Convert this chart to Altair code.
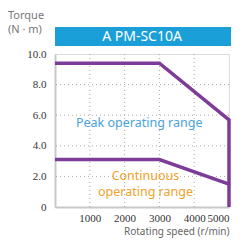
import altair as alt
import pandas as pd

# Data
peak_speed = [0, 3000, 5000, 5000]
peak_torque = [9.4, 9.4, 5.7, 0]
cont_speed = [0, 3000, 5000]
cont_torque = [3.1, 3.1, 1.5]

x_ticks = [1000, 2000, 3000, 4000, 5000]
y_ticks = [0, 2, 4, 6, 8, 10]

label_text = ["Peak operating range", "Continuous", "operating range"]
label_x = [2420, 2600, 2600]
label_y = [5.5, 2.05, 0.95]
label_color = ["#4aa3dd", "#f0a22a", "#f0a22a"]

title_text = "A PM-SC10A"
ylabel_lines = ["Torque", "(N · m)"]

W, H = 174, 153
SERIF = "Liberation Serif"

peak_df = pd.DataFrame({"speed": peak_speed, "torque": peak_torque, "order": range(len(peak_speed))})
cont_df = pd.DataFrame({"speed": cont_speed, "torque": cont_torque, "order": range(len(cont_speed))})
lab_df = pd.DataFrame({"t": label_text, "speed": label_x, "torque": label_y, "c": label_color})
vgrid_df = pd.DataFrame({"speed": x_ticks[:-1]})
hgrid_df = pd.DataFrame({"torque": y_ticks[1:-1]})

xscale = alt.Scale(domain=[0, 5000], nice=False)
yscale = alt.Scale(domain=[0, 10], nice=False)

xaxis = alt.Axis(values=x_ticks, format="d", grid=False, ticks=False, labelOverlap=False,
                 domainColor="#c8c8c8", domainWidth=2,
                 labelFont=SERIF, labelFontSize=11, labelColor="#333",
                 labelPadding=5, title="Rotating speed  (r/min)",
                 titleFont="Noto Sans", titleFontSize=10, titleFontWeight="normal",
                 titleColor="#666", titleAnchor="end", titlePadding=3)
yaxis = alt.Axis(values=y_ticks, grid=False, ticks=False, labelOverlap=False,
                 labelExpr="datum.value == 0 ? '0' : format(datum.value, '.1f')",
                 domainColor="#c8c8c8", domainWidth=2,
                 labelFont=SERIF, labelFontSize=11, labelColor="#333",
                 labelPadding=9, title=None)

X = alt.X("speed:Q", scale=xscale, axis=xaxis)
Y = alt.Y("torque:Q", scale=yscale, axis=yaxis)

# gridlines
vgrid = alt.Chart(vgrid_df).mark_rule(
    color="#aaaaaa", strokeDash=[1, 3], strokeWidth=1
).encode(x=X)
hgrid = alt.Chart(hgrid_df).mark_rule(
    color="#aaaaaa", strokeDash=[1, 3], strokeWidth=1
).encode(y=Y)

peak = alt.Chart(peak_df).mark_line(color="#7d3c98", strokeWidth=3.5, clip=False).encode(
    x=X, y=Y, order="order:Q")
cont = alt.Chart(cont_df).mark_line(color="#7d3c98", strokeWidth=3.5).encode(
    x=X, y=Y, order="order:Q")

labels = alt.Chart(lab_df).mark_text(font="Noto Sans", fontSize=12.5, align="center", baseline="middle").encode(
    x=X, y=Y, text="t:N", color=alt.Color("c:N", scale=None))

title_box = alt.Chart(pd.DataFrame({"t": [title_text]})).mark_rect(color="#1a9fd9").encode(
    x=alt.value(0), x2=alt.value(W + 2), y=alt.value(-27), y2=alt.value(-8))
title_txt = alt.Chart(pd.DataFrame({"t": [title_text]})).mark_text(
    color="white", font="Noto Sans", fontSize=14, align="center", baseline="middle").encode(
    x=alt.value(W / 2), y=alt.value(-17), text="t:N")

ylab1 = alt.Chart(pd.DataFrame({"t": [ylabel_lines[0]]})).mark_text(
    color="#777", font="Noto Sans", fontSize=11, align="left", baseline="middle").encode(
    x=alt.value(-47), y=alt.value(-38), text="t:N")
ylab2 = alt.Chart(pd.DataFrame({"t": [ylabel_lines[1]]})).mark_text(
    color="#777", font="Noto Sans", fontSize=11, align="left", baseline="middle").encode(
    x=alt.value(-47), y=alt.value(-24), text="t:N")

chart = alt.layer(vgrid, hgrid, cont, peak, labels, title_box, title_txt, ylab1, ylab2).properties(
    width=W, height=H,
    padding={"left": 47, "top": 46, "right": 10, "bottom": 33},
    autosize=alt.AutoSizeParams(type="none"),
).configure_view(stroke="#d8d8d8", strokeWidth=1.5).configure(background="white")

chart.save("out.html", embed_options={"renderer": "svg", "actions": False})
